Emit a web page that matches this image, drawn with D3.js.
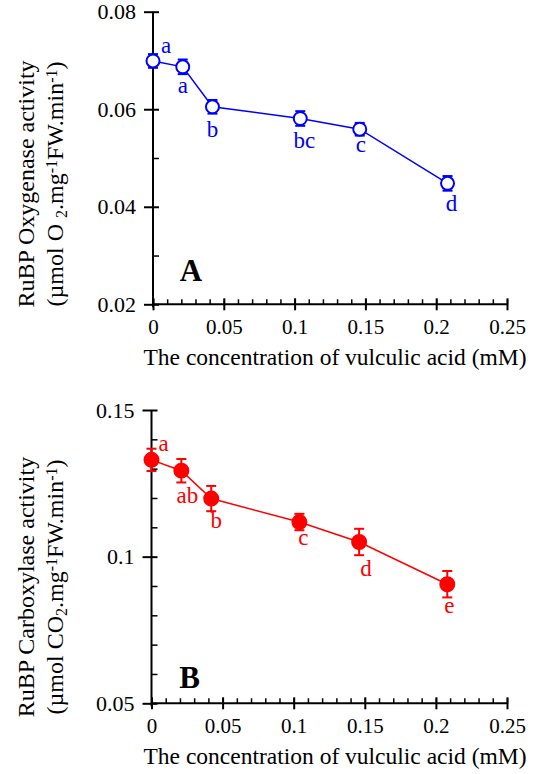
<!DOCTYPE html>
<html>
<head>
<meta charset="utf-8">
<script src="https://cdn.jsdelivr.net/npm/d3@7"></script>
<style>
  body { margin: 0; background: white; }
  svg { display: block; }
  text { font-family: "Liberation Serif", "Times New Roman", serif; }
</style>
</head>
<body>
<div id="chart"></div>
<script>
// vulculic acid concentrations (mM)
const concentrations = [0, 0.021, 0.042, 0.104, 0.146, 0.208];

// panel A: RuBP oxygenase
const oxygenase = [0.0699, 0.0687, 0.0605, 0.0581, 0.0559, 0.0448];
const oxygenaseErr = [0.0014, 0.0015, 0.0014, 0.0015, 0.0013, 0.0015];
const oxygenaseLetters = ["a", "a", "b", "bc", "c", "d"];
const oxygenaseTicks = [0.02, 0.04, 0.06, 0.08];

// panel B: RuBP carboxylase
const carboxylase = [0.1330, 0.1293, 0.1198, 0.1118, 0.1050, 0.0906];
const carboxylaseErr = [0.0038, 0.0040, 0.0043, 0.0028, 0.0045, 0.0045];
const carboxylaseLetters = ["a", "ab", "b", "c", "d", "e"];
const carboxylaseTicks = [0.05, 0.1, 0.15];

const xTicks = [0, 0.05, 0.1, 0.15, 0.2, 0.25];
const xTitle = "The concentration of vulculic acid (mM)";

const width = 543, height = 774;

const svg = d3.select("#chart").append("svg")
    .attr("width", width)
    .attr("height", height);

function drawPanel(opts) {
    const g = svg.append("g");
    const x = d3.scaleLinear().domain([0, 0.25]).range([opts.x0, 507]);
    const y = d3.scaleLinear().domain(opts.yDomain).range([opts.yBottom, opts.yTop]);

    // x axis: minor ticks point up, major ticks cross the line
    const xMinor = g.append("g").attr("transform", `translate(0,${opts.yBottom})`)
        .call(d3.axisTop(x).tickValues(d3.range(0, 26).map(i => i / 100)).tickSize(5).tickFormat(""));
    xMinor.select(".domain").remove();

    const xAxis = g.append("g").attr("transform", `translate(0,${opts.yBottom})`)
        .call(d3.axisBottom(x).tickValues(xTicks).tickSize(6).tickPadding(9).tickFormat(d3.format("")));
    xAxis.select(".domain").attr("d", `M${opts.x0},0H507`);
    xAxis.selectAll(".tick line").attr("y1", -6);
    xAxis.selectAll("text")
        .attr("fill", "black")
        .attr("font-family", "Liberation Serif")
        .attr("font-size", "21px");
    g.selectAll(".domain, .tick line").attr("stroke", "black").attr("stroke-width", 2);
    xMinor.selectAll(".tick line").attr("stroke-width", 1.5);

    g.append("text")
        .attr("x", 335).attr("y", opts.yBottom + 61)
        .attr("text-anchor", "middle")
        .attr("font-size", "23.5px")
        .text(xTitle);

    // y axis: minor ticks inside, major ticks cross the line
    const yMinor = g.append("g").attr("transform", `translate(${opts.x0},0)`)
        .call(d3.axisRight(y).tickValues(opts.yMinor).tickSize(6).tickFormat(""));
    yMinor.select(".domain").remove();
    yMinor.selectAll(".tick line").attr("stroke", "black").attr("stroke-width", 1.5);

    const yAxis = g.append("g").attr("transform", `translate(${opts.x0},0)`)
        .call(d3.axisLeft(y).tickValues(opts.yTicks).tickSize(9).tickPadding(8).tickFormat(d3.format("")));
    yAxis.select(".domain").attr("d", `M0,${opts.yTop}V${opts.yBottom + 3}`);
    yAxis.selectAll(".tick line").attr("x2", 6).attr("x1", -9);
    yAxis.selectAll(".domain, .tick line").attr("stroke", "black").attr("stroke-width", 2);
    yAxis.selectAll("text")
        .attr("fill", "black")
        .attr("font-family", "Liberation Serif")
        .attr("font-size", "22px");

    // y title, two rotated lines
    const yt = g.append("text")
        .attr("transform", `translate(0,${opts.titleY}) rotate(-90)`)
        .attr("text-anchor", "middle")
        .attr("font-size", "24px");
    yt.append("tspan").attr("x", 0).attr("y", 34).text(opts.title1);
    const l2 = yt.append("tspan").attr("x", 0).attr("y", 63);
    opts.title2.forEach(p => {
        const t = l2.append("tspan").text(p.t);
        if (p.sub) t.attr("baseline-shift", "-25%").attr("font-size", "16px");
        if (p.sup) t.attr("baseline-shift", "40%").attr("font-size", "16px");
    });

    // data line
    const pts = concentrations.map((c, i) => ({x: c, y: opts.values[i], e: opts.errors[i], l: opts.letters[i], i}));
    g.append("path")
        .datum(pts)
        .attr("fill", "none")
        .attr("stroke", opts.color)
        .attr("stroke-width", 1.5)
        .attr("d", d3.line().x(d => x(d.x)).y(d => y(d.y)));

    // error bars
    const eb = g.selectAll(".eb").data(pts).join("g").attr("class", "eb")
        .attr("stroke", opts.color).attr("stroke-width", 2);
    eb.append("line")
        .attr("x1", d => x(d.x)).attr("x2", d => x(d.x))
        .attr("y1", d => y(d.y - d.e)).attr("y2", d => y(d.y + d.e));
    eb.append("line")
        .attr("x1", d => x(d.x) - 5).attr("x2", d => x(d.x) + 5)
        .attr("y1", d => y(d.y + d.e)).attr("y2", d => y(d.y + d.e));
    eb.append("line")
        .attr("x1", d => x(d.x) - 5).attr("x2", d => x(d.x) + 5)
        .attr("y1", d => y(d.y - d.e)).attr("y2", d => y(d.y - d.e));

    // markers
    g.selectAll(".pt").data(pts).join("circle").attr("class", "pt")
        .attr("cx", d => x(d.x)).attr("cy", d => y(d.y))
        .attr("r", opts.r)
        .attr("fill", opts.filled ? opts.color : "white")
        .attr("stroke", opts.color)
        .attr("stroke-width", 2);

    // significance letters
    g.selectAll(".sig").data(pts).join("text").attr("class", "sig")
        .attr("x", d => x(d.x) + opts.letterOffsets[d.i][0])
        .attr("y", d => y(d.y) + opts.letterOffsets[d.i][1])
        .attr("text-anchor", "middle")
        .attr("font-size", "23px")
        .attr("fill", opts.color)
        .text(d => d.l);

    // panel letter
    g.append("text")
        .attr("x", opts.x0 + 38).attr("y", opts.panelY)
        .attr("text-anchor", "middle")
        .attr("font-size", "31px")
        .attr("font-weight", "bold")
        .text(opts.panel);
}

drawPanel({
    panel: "A",
    panelY: 281,
    x0: 153,
    yDomain: [0.02, 0.08],
    yTop: 11.7,
    yBottom: 304.3,
    yTicks: oxygenaseTicks,
    yMinor: [0.03, 0.05, 0.07],
    titleY: 184,
    title1: "RuBP Oxygenase activity",
    title2: [{t: "(µmol O "}, {t: "2", sub: true}, {t: ".mg"}, {t: "-1", sup: true}, {t: "FW.min"}, {t: "-1", sup: true}, {t: ")"}],
    values: oxygenase,
    errors: oxygenaseErr,
    letters: oxygenaseLetters,
    letterOffsets: [[13, -8], [0, 26], [0, 30], [4, 30], [1, 23], [4, 28]],
    color: "#0000ff",
    filled: false,
    r: 6.5
});

drawPanel({
    panel: "B",
    panelY: 688,
    x0: 151.5,
    yDomain: [0.05, 0.15],
    yTop: 410,
    yBottom: 703.3,
    yTicks: carboxylaseTicks,
    yMinor: [0.06, 0.07, 0.08, 0.09, 0.11, 0.12, 0.13, 0.14],
    titleY: 587,
    title1: "RuBP Carboxylase activity",
    title2: [{t: "(µmol CO"}, {t: "2", sub: true}, {t: ".mg"}, {t: "-1", sup: true}, {t: "FW.min"}, {t: "-1", sup: true}, {t: ")"}],
    values: carboxylase,
    errors: carboxylaseErr,
    letters: carboxylaseLetters,
    letterOffsets: [[12, -9], [6, 32], [5, 29], [4, 23], [7, 34], [2, 29]],
    color: "#ff0000",
    filled: true,
    r: 7
});
</script>
</body>
</html>
